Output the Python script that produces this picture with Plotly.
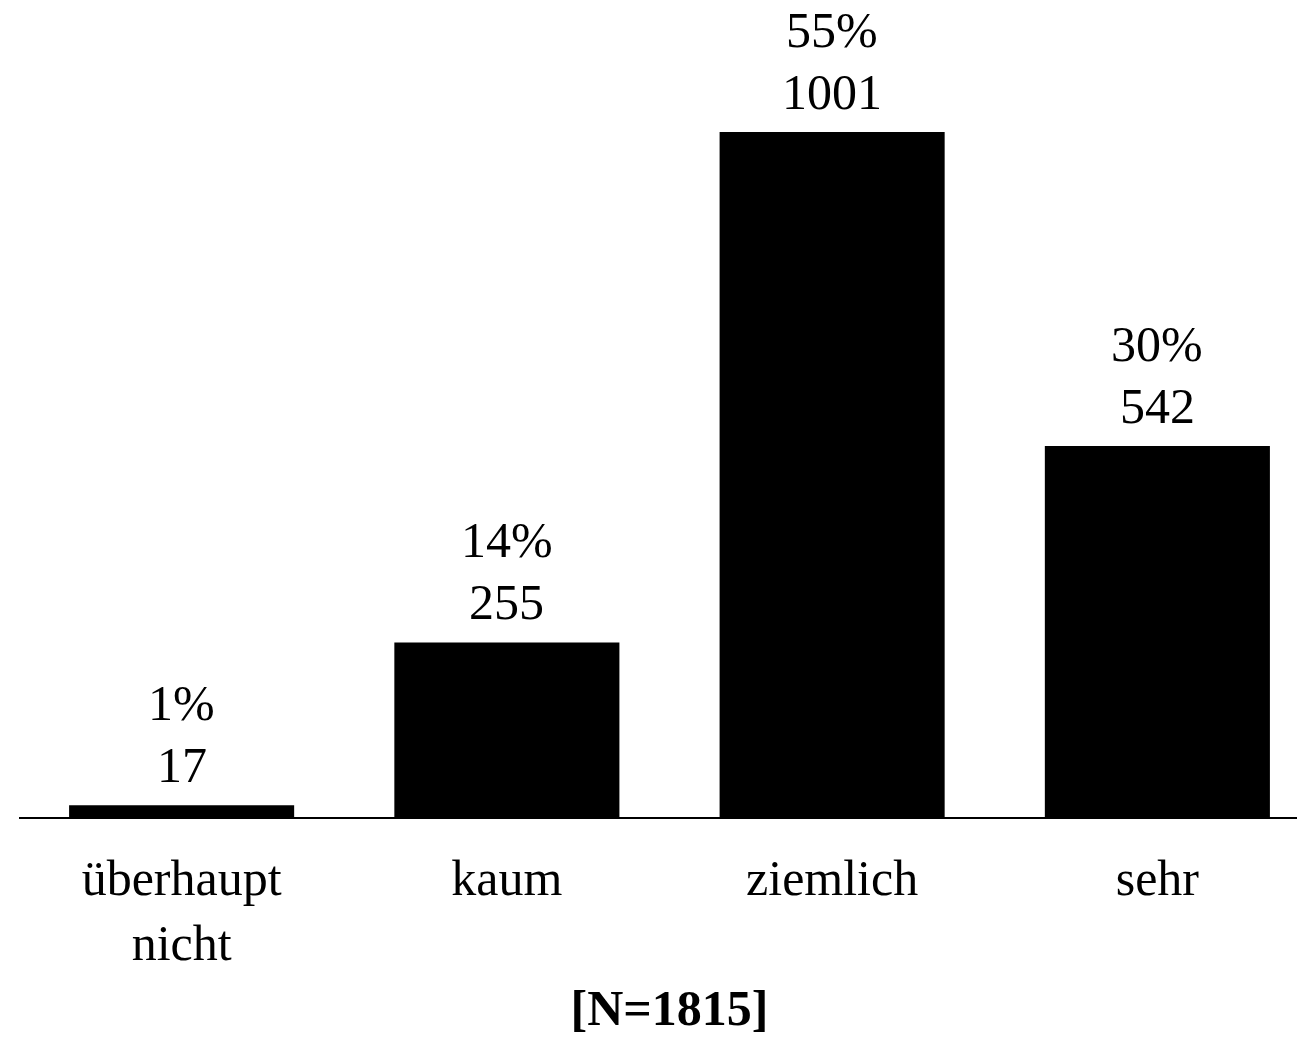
import plotly.graph_objects as go

categories = ["überhaupt<br>nicht", "kaum", "ziemlich", "sehr"]
counts = [17, 255, 1001, 542]
percents = ["1%", "14%", "55%", "30%"]
total_label = "[N=1815]"

FONT = "Liberation Serif"

fig = go.Figure(
    go.Bar(
        x=categories,
        y=counts,
        marker=dict(color="black", line=dict(width=0)),
        cliponaxis=False,
    )
)

for cat, cnt, pct in zip(categories, counts, percents):
    fig.add_annotation(x=cat, y=cnt, text=str(cnt), showarrow=False,
                       yanchor="bottom", yshift=10,
                       font=dict(family=FONT, size=50, color="black"))
    fig.add_annotation(x=cat, y=cnt, text=pct, showarrow=False,
                       yanchor="bottom", yshift=72,
                       font=dict(family=FONT, size=50, color="black"))

fig.update_layout(
    width=1320,
    height=1038,
    margin=dict(l=19, r=0, t=8, b=221),
    paper_bgcolor="white",
    plot_bgcolor="white",
    bargap=0.308,
    showlegend=False,
    font=dict(family=FONT, size=50, color="black"),
    xaxis=dict(
        range=[-0.5, 3.5],
        showline=True,
        linecolor="black",
        linewidth=2,
        ticks="",
        showgrid=False,
        ticklabelstandoff=16,
        tickfont=dict(family=FONT, size=50, color="black"),
        title=dict(text=f"<b>{total_label}</b>",
                   font=dict(family=FONT, size=50, color="black"),
                   standoff=20),
    ),
    yaxis=dict(
        range=[0, 1182],
        visible=False,
        showgrid=False,
        zeroline=False,
    ),
)

fig.write_html(
    "out.html",
    config={"displayModeBar": False},
    post_script="document.body.style.margin='0';document.body.style.overflow='hidden';",
)
